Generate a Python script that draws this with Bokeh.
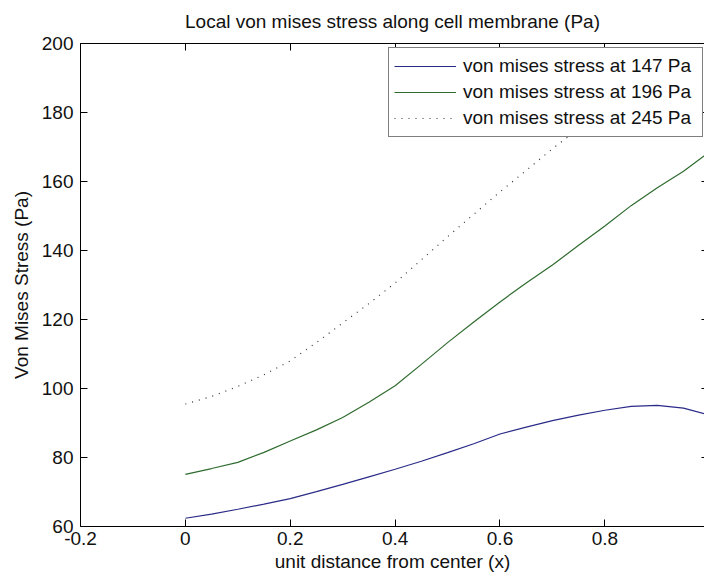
from bokeh.plotting import figure
from bokeh.models import (LinearAxis, FixedTicker, Legend, LegendItem, Range1d,
                          CustomLabelingPolicy)
from bokeh.embed import file_html
from bokeh.resources import INLINE

# ---- data ----
x_vals = [0.0, 0.05, 0.1, 0.15, 0.2, 0.25, 0.3, 0.35, 0.4, 0.45, 0.5,
          0.55, 0.6, 0.65, 0.7, 0.75, 0.8, 0.85, 0.9, 0.95, 0.99]
stress_147 = [62.4, 63.6, 65.0, 66.5, 68.1, 70.1, 72.2, 74.4, 76.6, 78.9, 81.4,
              84.0, 86.8, 88.8, 90.7, 92.3, 93.7, 94.8, 95.1, 94.3, 92.7]
stress_196 = [75.1, 76.8, 78.6, 81.5, 84.8, 88.0, 91.6, 96.0, 100.8, 107.0, 113.3,
              119.3, 125.1, 130.6, 135.8, 141.5, 147.1, 153.0, 158.2, 163.0, 167.5]
stress_245 = [95.5, 97.7, 100.6, 104.0, 108.0, 113.3, 119.0, 124.6, 130.6, 137.3, 144.0,
              150.5, 157.0, 163.2, 169.5, 175.3, 181.0, 186.0, 191.0, 195.5, 199.0]
series_labels = ["von mises stress at 147 Pa", "von mises stress at 196 Pa",
                 "von mises stress at 245 Pa"]
title_text = "Local von mises stress along cell membrane (Pa)"
x_ticks = [-0.2, 0.0, 0.2, 0.4, 0.6, 0.8]
y_ticks = [60, 80, 100, 120, 140, 160, 180, 200]

FONT = "Liberation Sans"
FS = "19px"

p = figure(width=704, height=579, output_backend="svg", toolbar_location=None,
           x_range=Range1d(-0.2, 0.99), y_range=Range1d(60, 200),
           min_border_left=80, min_border_right=0, min_border_top=43,
           min_border_bottom=53, title=title_text)
p.background_fill_color = "white"
p.border_fill_color = "white"
p.outline_line_color = None
p.xgrid.visible = False
p.ygrid.visible = False

p.title.text_font = FONT
p.title.text_font_size = FS
p.title.text_font_style = "normal"
p.title.align = "center"
p.title.vertical_align = "top"
p.title.text_color = "#111111"
p.title.standoff = 19

no_labels = CustomLabelingPolicy(code="return new indices.constructor(indices.size, 0)")

def style_axis(ax, ticks, tick_in=7, labels=True, line=True):
    ax.ticker = FixedTicker(ticks=ticks)
    ax.major_tick_in = tick_in
    ax.major_tick_out = 0
    ax.minor_tick_line_color = None
    ax.major_tick_line_color = "black"
    ax.axis_line_color = "black" if line else None
    ax.major_label_text_font = FONT
    ax.major_label_text_font_size = FS
    ax.major_label_text_color = "#111111"
    ax.axis_label_text_font = FONT
    ax.axis_label_text_font_size = FS
    ax.axis_label_text_font_style = "normal"
    ax.axis_label_text_color = "#111111"
    if not labels:
        ax.major_label_policy = no_labels
        ax.major_label_text_font_size = "0px"
        ax.major_label_standoff = 0

xa = p.xaxis[0]
style_axis(xa, x_ticks)
xa.axis_label = "unit distance from center (x)"
xa.major_label_standoff = 5
xa.axis_label_standoff = 3
xa.major_label_overrides = {-0.2: "-0.2", 0.0: "0"}

ya = p.yaxis[0]
style_axis(ya, y_ticks)
ya.axis_label = "Von Mises Stress (Pa)"
ya.major_label_standoff = 7
ya.axis_label_standoff = 7

top = LinearAxis()
style_axis(top, x_ticks, labels=False)
p.add_layout(top, "above")

right = LinearAxis()
style_axis(right, y_ticks, tick_in=3, labels=False, line=False)
p.add_layout(right, "right")

r1 = p.line(x_vals, stress_147, line_color="#2a2a88", line_width=1.2)
r2 = p.line(x_vals, stress_196, line_color="#2e6b2e", line_width=1.2)
r3 = p.line(x_vals, stress_245, line_color="#333333", line_width=1.2, line_dash="1 6")

legend = Legend(items=[LegendItem(label=series_labels[0], renderers=[r1]),
                       LegendItem(label=series_labels[1], renderers=[r2]),
                       LegendItem(label=series_labels[2], renderers=[r3])],
                location=(308, 389), margin=0, padding=5, spacing=0,
                label_height=26, glyph_height=26, glyph_width=62,
                label_standoff=7, label_width=234,
                label_text_font=FONT, label_text_font_size=FS,
                label_text_color="#111111",
                border_line_color="black", border_line_width=1,
                background_fill_color="white", background_fill_alpha=1.0)
p.add_layout(legend, "center")

open("out.html", "w").write(file_html(p, INLINE))
